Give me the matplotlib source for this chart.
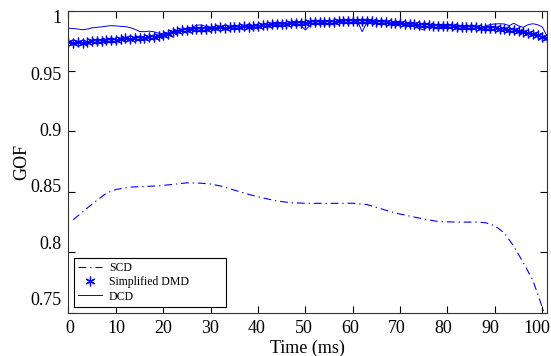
import matplotlib
matplotlib.use("Agg")
import matplotlib.pyplot as plt
from matplotlib.transforms import ScaledTranslation

plt.rcParams['font.family'] = ['Liberation Serif', 'DejaVu Serif']

# ---- data ----
time_ms = list(range(0, 102))

scd_t = [1, 3, 5, 8, 10, 13, 16, 19, 22, 25, 28, 30, 32, 35, 38, 41, 44, 47, 50,
         55, 60, 63, 66, 69, 72, 75, 78, 82, 86, 88, 90, 92, 94, 96, 98, 99, 100, 101]
scd_gof = [0.827, 0.8335, 0.840, 0.849, 0.852, 0.854, 0.8545, 0.855, 0.8562, 0.8575,
           0.8572, 0.8565, 0.855, 0.8515, 0.848, 0.845, 0.8425, 0.841, 0.8406,
           0.8405, 0.8406, 0.8395, 0.836, 0.8325, 0.830, 0.8275, 0.8255, 0.825,
           0.825, 0.8245, 0.822, 0.816, 0.805, 0.7915, 0.777, 0.766, 0.7545, 0.745]

dmd_gof = [0.9740, 0.9733, 0.9741, 0.9736, 0.9742, 0.9745, 0.9750, 0.9749, 0.9756, 0.9754,
           0.9760, 0.9764, 0.9770, 0.9767, 0.9772, 0.9776, 0.9778, 0.9781, 0.9784, 0.9790,
           0.9800, 0.9810, 0.9820, 0.9829, 0.9836, 0.9840, 0.9846, 0.9849, 0.9852, 0.9851,
           0.9856, 0.9858, 0.9861, 0.9859, 0.9863, 0.9865, 0.9868, 0.9871, 0.9869, 0.9873,
           0.9876, 0.9880, 0.9882, 0.9886, 0.9887, 0.9890, 0.9892, 0.9896, 0.9897, 0.9900,
           0.9899, 0.9903, 0.9905, 0.9904, 0.9908, 0.9910, 0.9909, 0.9912, 0.9915, 0.9914,
           0.9917, 0.9916, 0.9915, 0.9914, 0.9912, 0.9910, 0.9909, 0.9905, 0.9901, 0.9898,
           0.9895, 0.9891, 0.9888, 0.9886, 0.9882, 0.9880, 0.9878, 0.9876, 0.9875, 0.9873,
           0.9872, 0.9870, 0.9868, 0.9866, 0.9865, 0.9863, 0.9862, 0.9860, 0.9858, 0.9856,
           0.9853, 0.9850, 0.9847, 0.9843, 0.9840, 0.9832, 0.9825, 0.9815, 0.9805, 0.9795,
           0.9786, 0.9776]

dcd_gof = [0.9855, 0.9852, 0.9848, 0.9842, 0.9848, 0.9858, 0.9862, 0.9866, 0.9872, 0.9876,
           0.9874, 0.9870, 0.9868, 0.9860, 0.9846, 0.9828, 0.9826, 0.9830, 0.9826, 0.9814,
           0.9808, 0.9815, 0.9830, 0.9838, 0.9842, 0.9848, 0.9858, 0.9880, 0.9882, 0.9870,
           0.9850, 0.9856, 0.9864, 0.9858, 0.9866, 0.9870, 0.9862, 0.9872, 0.9880, 0.9876,
           0.9870, 0.9882, 0.9888, 0.9880, 0.9886, 0.9892, 0.9896, 0.9890, 0.9894, 0.9880,
           0.9840, 0.9880, 0.9904, 0.9910, 0.9906, 0.9912, 0.9914, 0.9908, 0.9916, 0.9920,
           0.9918, 0.9912, 0.9826, 0.9905, 0.9915, 0.9918, 0.9912, 0.9906, 0.9900, 0.9894,
           0.9892, 0.9888, 0.9882, 0.9870, 0.9850, 0.9842, 0.9870, 0.9880, 0.9876, 0.9868,
           0.9872, 0.9878, 0.9874, 0.9866, 0.9868, 0.9872, 0.9866, 0.9862, 0.9870, 0.9886,
           0.9890, 0.9892, 0.9890, 0.9876, 0.9896, 0.9874, 0.9862, 0.9884, 0.9892, 0.9884,
           0.9866, 0.9790]

x_ticks = [0, 10, 20, 30, 40, 50, 60, 70, 80, 90, 100]
y_ticks = [0.75, 0.8, 0.85, 0.9, 0.95, 1.0]
y_tick_labels = ['0.75', '0.8', '0.85', '0.9', '0.95', '1']

# ---- figure ----
fig = plt.figure(figsize=(5.51, 3.56), dpi=100)
ax = fig.add_axes([0.1243, 0.1216, 0.8684, 0.8484])

blue = '#0000ff'
ax.plot(scd_t, scd_gof, color=blue, lw=0.8, dashes=(7, 3.5, 1.2, 3.5), label='SCD')
ax.plot(time_ms, dmd_gof, color=blue, linestyle='none', marker=(6, 2, 0), markersize=7,
        markeredgewidth=0.9, label='Simplified DMD')
ax.plot(time_ms, dcd_gof, color=blue, lw=0.7, label='DCD')

ax.set_xlim(0, 101)
ax.set_ylim(0.75, 1.0)
ax.set_xticks(x_ticks)
ax.set_xticklabels([str(t) for t in x_ticks])
ax.set_yticks(y_ticks)
ax.set_yticklabels(y_tick_labels)
ax.tick_params(direction='in', length=5, width=0.8, top=True, right=True,
               labelsize=13, pad=5)
for s in ax.spines.values():
    s.set_linewidth(0.8)
    s.set_color('#333333')

# tick labels in the reference are laid out on a slightly compressed scale
for t, lab in zip(x_ticks, ax.get_xticklabels()):
    dx_px = (70 + 4.667 * t) - (68.5 + 4.737 * t)
    lab.set_transform(lab.get_transform() + ScaledTranslation(dx_px / 100, 0, fig.dpi_scale_trans))
for v, lab in zip(y_ticks, ax.get_yticklabels()):
    k = (1 - v) / 0.05
    dy_px = -((17 + 56.3 * k) - (10.7 + 60.4 * k))
    lab.set_transform(lab.get_transform() + ScaledTranslation(0, dy_px / 100, fig.dpi_scale_trans))

ax.set_xlabel('Time (ms)', fontsize=13, labelpad=2)
ax.set_ylabel('GOF', fontsize=13, labelpad=0)

leg = ax.legend(loc='lower left', bbox_to_anchor=(0.0115, 0.0199, 0.317, 0.1),
                mode='expand', borderaxespad=0,
                fontsize=8.5, frameon=True, fancybox=False, framealpha=1,
                edgecolor='black', handlelength=2.0, handletextpad=0.6,
                labelspacing=0.2, borderpad=0.35)
leg.get_frame().set_linewidth(0.8)

fig.savefig('out.png', dpi=100)
